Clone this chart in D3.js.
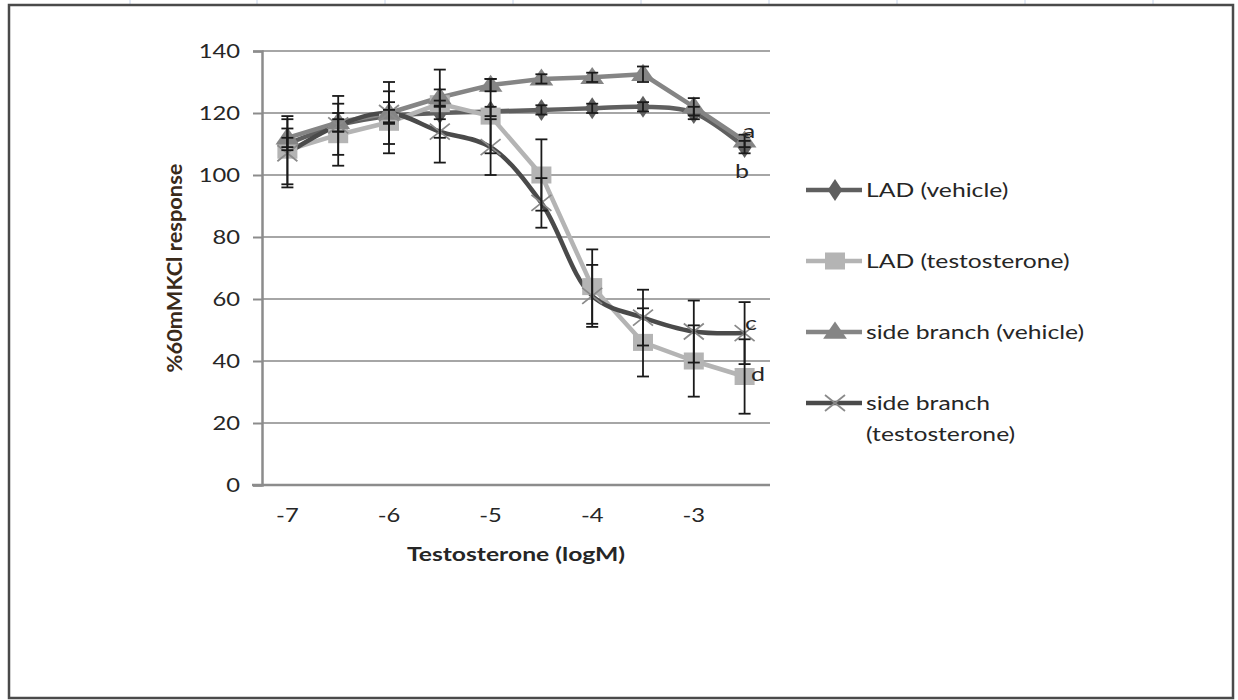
<!DOCTYPE html>
<html>
<head>
<meta charset="utf-8">
<script src="https://cdn.jsdelivr.net/npm/d3@7"></script>
<style>
  html, body { margin: 0; padding: 0; background: #fff; }
  svg { display: block; }
  text { font-family: Lato, "Open Sans", sans-serif; }
</style>
</head>
<body>
<svg id="chart" width="1238" height="700"></svg>
<script>
// ---- Data ----
const categories = [-7, -6.5, -6, -5.5, -5, -4.5, -4, -3.5, -3, -2.5];
const xTickLabels = [-7, -6, -5, -4, -3];
const yTicks = [0, 20, 40, 60, 80, 100, 120, 140];
const seriesNames = ["LAD (vehicle)", "LAD (testosterone)", "side branch (vehicle)", "side branch (testosterone)"];
const ladVehicle    = [110, 116, 119, 120, 120.5, 121, 121.5, 122, 120, 109];
const ladVehicleErr = [2, 2, 2, 2, 1.5, 1.5, 1.5, 1.5, 2, 2];
const ladTesto      = [108, 113, 117, 123, 119, 100, 64, 46, 40, 35];
const ladTestoErr   = [11, 10, 10, 11, 12, 11.5, 12, 11, 11.5, 12];
const sbVehicle     = [112, 117, 120, 125, 129, 131, 131.5, 132.5, 122, 111];
const sbVehicleErr  = [3, 3, 3.5, 2.6, 2, 1.5, 1.5, 2.5, 2.8, 2];
const sbTesto       = [107, 116, 120, 114, 109, 91, 61, 54, 49.5, 49];
const sbTestoErr    = [11, 9.5, 10, 10, 9, 8, 10, 9, 10, 10];
const letters = ["a", "b", "c", "d"];
const letterValues = [114, 101, 52, 35.5];

// ---- Layout ----
const SX = 1.25; // horizontal stretch of the text, as in the reference
const SXL = 1.3; // legend text stretch
const svg = d3.select("#chart");
const plot = { left: 262, right: 770, top: 51, bottom: 485 };

// spreadsheet background grid (outside chart frame)
const sheetCols = [130, 257, 385, 513, 641, 769, 897, 1025, 1153];
svg.selectAll("line.sheet").data(sheetCols).enter().append("line")
  .attr("x1", d => d).attr("x2", d => d).attr("y1", 0).attr("y2", 5)
  .attr("stroke", "#c6d4ea").attr("stroke-width", 1);

// chart frame
svg.append("rect").attr("x", 9).attr("y", 5).attr("width", 1224).attr("height", 693)
  .attr("fill", "#fff").attr("stroke", "#4a4a4a").attr("stroke-width", 2.5);

const x = d3.scaleBand().domain(categories).range([plot.left, plot.right]);
const y = d3.scaleLinear().domain([0, 140]).range([plot.bottom, plot.top]);
const cx = v => x(v) + x.bandwidth() / 2;

function stretchedText(g, px, py, str, sx) {
  return g.append("text").attr("transform", `translate(${px},${py}) scale(${sx || SX},1)`).text(str);
}

// gridlines
svg.append("g").selectAll("line").data(yTicks.filter(t => t > 0)).enter().append("line")
  .attr("x1", plot.left).attr("x2", plot.right)
  .attr("y1", d => y(d)).attr("y2", d => y(d))
  .attr("stroke", "#a6a6a6").attr("stroke-width", 2);

// y axis
const yAxis = svg.append("g").attr("transform", `translate(${plot.left},0)`)
  .call(d3.axisLeft(y).tickValues(yTicks).tickSize(9).tickPadding(0));
yAxis.select(".domain").attr("stroke", "#8c8c8c").attr("stroke-width", 2.5);
yAxis.selectAll(".tick line").attr("stroke", "#8c8c8c").attr("stroke-width", 2);
yAxis.selectAll(".tick text").attr("font-size", 19).attr("fill", "#262626")
  .attr("x", -17.5).attr("transform", `scale(${SX},1)`)
  .style("font-family", "Lato, sans-serif");

// x axis
const xAxis = svg.append("g").attr("transform", `translate(0,${plot.bottom})`)
  .call(d3.axisBottom(x).tickValues(xTickLabels).tickSize(0).tickPadding(24));
xAxis.select(".domain").remove();
svg.append("line").attr("x1", 252).attr("x2", plot.right)
  .attr("y1", plot.bottom).attr("y2", plot.bottom)
  .attr("stroke", "#8c8c8c").attr("stroke-width", 2.5);
xAxis.selectAll(".tick text").attr("font-size", 19).attr("fill", "#262626")
  .attr("transform", `scale(${SX},1)`)
  .style("font-family", "Lato, sans-serif");

// axis titles
stretchedText(svg, 516, 561, "Testosterone (logM)", 1.3)
  .attr("text-anchor", "middle").attr("font-size", 19).attr("font-weight", "bold")
  .attr("fill", "#262626");
svg.append("text").attr("transform", "translate(182,268) rotate(-90) scale(1.15,1.12)")
  .attr("text-anchor", "middle").attr("font-size", 19).attr("font-weight", "bold")
  .attr("fill", "#3a2a1a").text("%60mMKCl response");

// series definitions
const series = [
  { name: seriesNames[0], vals: ladVehicle, err: ladVehicleErr, color: "#5f5f5f", mcolor: "#5f5f5f", marker: "diamond", curve: d3.curveCatmullRom.alpha(0.5) },
  { name: seriesNames[1], vals: ladTesto,   err: ladTestoErr,   color: "#b4b4b4", mcolor: "#b4b4b4", marker: "square",  curve: d3.curveLinear },
  { name: seriesNames[2], vals: sbVehicle,  err: sbVehicleErr,  color: "#858585", mcolor: "#858585", marker: "triangle", curve: d3.curveLinear },
  { name: seriesNames[3], vals: sbTesto,    err: sbTestoErr,    color: "#4a4a4a", mcolor: "#8a8a8a", marker: "x",       curve: d3.curveCatmullRom.alpha(0.5) }
];

function drawMarker(g, type, px, py, color) {
  if (type === "diamond") {
    g.append("path").attr("d", d3.symbol().type(d3.symbolDiamond).size(140)())
      .attr("transform", `translate(${px},${py}) scale(1.15,1)`).attr("fill", color);
  } else if (type === "square") {
    g.append("rect").attr("x", px - 10).attr("y", py - 8.5).attr("width", 20).attr("height", 17)
      .attr("fill", color);
  } else if (type === "triangle") {
    g.append("path").attr("d", d3.symbol().type(d3.symbolTriangle).size(170)())
      .attr("transform", `translate(${px},${py + 1}) scale(1.2,1)`).attr("fill", color);
  } else if (type === "x") {
    const rx = 10, ry = 8;
    g.append("path").attr("d", `M${px - rx},${py - ry}L${px + rx},${py + ry}M${px - rx},${py + ry}L${px + rx},${py - ry}`)
      .attr("stroke", color).attr("stroke-width", 1.8).attr("fill", "none");
  }
}

const gLines = svg.append("g");
const gMarks = svg.append("g");
const gErr = svg.append("g");

series.forEach(s => {
  const pts = categories.map((c, i) => [cx(c), y(s.vals[i])]);
  gLines.append("path").attr("d", d3.line().curve(s.curve)(pts))
    .attr("fill", "none").attr("stroke", s.color).attr("stroke-width", 4.5)
    .attr("stroke-linejoin", "round");
  pts.forEach(p => drawMarker(gMarks, s.marker, p[0], p[1], s.mcolor));
  // error bars
  categories.forEach((c, i) => {
    const px = cx(c), lo = y(s.vals[i] - s.err[i]), hi = y(s.vals[i] + s.err[i]);
    gErr.append("line").attr("x1", px).attr("x2", px).attr("y1", lo).attr("y2", hi)
      .attr("stroke", "#1a1a1a").attr("stroke-width", 1.8);
    [lo, hi].forEach(yy => gErr.append("line").attr("x1", px - 6).attr("x2", px + 6)
      .attr("y1", yy).attr("y2", yy).attr("stroke", "#1a1a1a").attr("stroke-width", 1.8));
  });
});

// letter annotations
const letterX = [749, 742, 751, 758];
const gLet = svg.append("g");
letters.forEach((l, i) => {
  stretchedText(gLet, letterX[i], y(letterValues[i]) + 6, l)
    .attr("text-anchor", "middle").attr("font-size", 20).attr("fill", "#262626");
});

// legend
const legendY = [190, 261, 332, 403];
const lg = svg.append("g");
series.forEach((s, i) => {
  const ly = legendY[i];
  lg.append("line").attr("x1", 806).attr("x2", 862).attr("y1", ly).attr("y2", ly)
    .attr("stroke", s.color).attr("stroke-width", 4.5);
  drawMarker(lg, s.marker, 835, ly, s.mcolor);
  if (i === 3) {
    stretchedText(lg, 866, ly + 7, "side branch", SXL).attr("font-size", 19).attr("fill", "#262626");
    stretchedText(lg, 866, ly + 38, "(testosterone)", SXL).attr("font-size", 19).attr("fill", "#262626");
  } else {
    stretchedText(lg, 866, ly + 7, s.name, SXL).attr("font-size", 19).attr("fill", "#262626");
  }
});
</script>
</body>
</html>
